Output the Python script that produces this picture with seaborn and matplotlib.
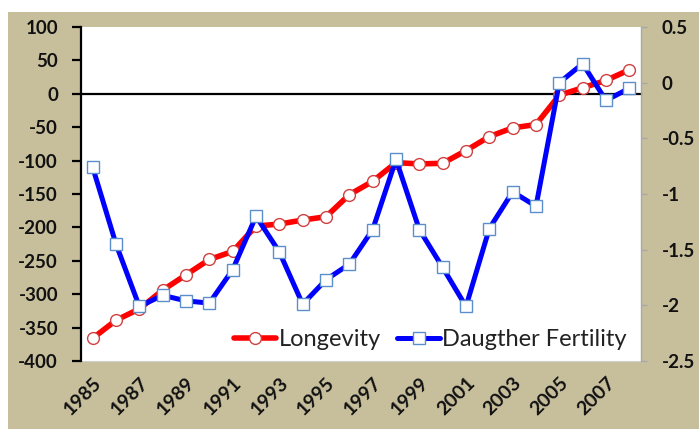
import numpy as np
import matplotlib
matplotlib.use('Agg')
import matplotlib.pyplot as plt
import matplotlib.transforms as mtransforms
import seaborn as sns
from matplotlib.patches import Rectangle
from matplotlib.lines import Line2D

years = [1985, 1986, 1987, 1988, 1989, 1990, 1991, 1992, 1993, 1994, 1995, 1996,
         1997, 1998, 1999, 2000, 2001, 2002, 2003, 2004, 2005, 2006, 2007, 2008]
longevity = [-366, -339, -322, -294, -271, -248, -236, -198, -195, -189, -184, -151,
             -131, -103, -105, -104, -85, -64, -51, -46, -2, 9, 20, 36]
fertility = [-0.76, -1.45, -2.01, -1.91, -1.96, -1.98, -1.68, -1.20, -1.52, -1.99, -1.77, -1.63,
             -1.32, -0.69, -1.32, -1.66, -2.01, -1.31, -0.98, -1.11, 0.00, 0.17, -0.16, -0.05]
label_years = [1985, 1987, 1989, 1991, 1993, 1995, 1997, 1999, 2001, 2003, 2005, 2007]
left_ticks = [100, 50, 0, -50, -100, -150, -200, -250, -300, -350, -400]
right_ticks = [0.5, 0, -0.5, -1, -1.5, -2, -2.5]

sns.set_style('white')
plt.rcParams['font.family'] = ['Lato', 'DejaVu Sans']
plt.rcParams['axes.unicode_minus'] = False

W, H = 699, 429
fig = plt.figure(figsize=(W / 100, H / 100), dpi=100)
fig.patch.set_facecolor('white')
fig.patches.append(Rectangle((8 / W, 0), 1, 1 - 12 / H, transform=fig.transFigure,
                             facecolor='#C7BF9C', edgecolor='none', zorder=-5))

ax = fig.add_axes([81 / W, 1 - 361 / H, 560 / W, 334 / H])
ax.set_facecolor('white')

sns.lineplot(x=years, y=longevity, ax=ax, color='#FF0000', linewidth=4.0,
             marker='o', markersize=8.5, markerfacecolor='white',
             markeredgecolor='#D04040', markeredgewidth=1.0, zorder=3)
ax.set_xlim(years[0] - 0.5, years[-1] + 0.5)
ax.set_ylim(-400, 100)
ax.set_yticks(left_ticks)
ax.set_yticklabels([str(t) for t in left_ticks])
ax.set_xlabel('')
ax.set_ylabel('')

# x axis line at zero with category boundary ticks
for s in ['top', 'right']:
    ax.spines[s].set_visible(False)
ax.spines['bottom'].set_position(('data', 0))
ax.spines['bottom'].set_color('black')
ax.spines['bottom'].set_linewidth(1.6)
ax.spines['left'].set_color('black')
ax.spines['left'].set_linewidth(1.6)
ax.set_xticks([y + 0.5 for y in years[:-1]] + [years[0] - 0.5])
ax.tick_params(axis='x', direction='out', length=4, width=1.6, color='black',
               labelbottom=False)
ax.tick_params(axis='y', direction='out', length=6.5, width=1.6, color='black',
               pad=10, labelsize=13.5, labelcolor='#111111')
for t in ax.get_yticklabels():
    t.set_fontweight('bold')

# year labels along the bottom of the plot area
sec = ax.secondary_xaxis('bottom')
sec.set_xticks(label_years)
sec.set_xticklabels([str(y) for y in label_years], rotation=45, ha='right', va='center',
                    rotation_mode='anchor', fontweight='bold', fontsize=14,
                    color='#111111')
sec.tick_params(length=0, pad=14)
shift = mtransforms.ScaledTranslation(0.06, 0, fig.dpi_scale_trans)
for t in sec.get_xticklabels():
    t.set_transform(t.get_transform() + shift)
sec.spines['bottom'].set_color('#D0D0D0')
sec.spines['bottom'].set_linewidth(0.8)

ax2 = ax.twinx()
sns.lineplot(x=years, y=fertility, ax=ax2, color='#0000FF', linewidth=3.6,
             marker='s', markersize=9, markerfacecolor='white',
             markeredgecolor='#5B8FCC', markeredgewidth=1.0, zorder=4)
ax2.set_ylim(-2.5, 0.5)
ax2.set_yticks(right_ticks)
ax2.set_yticklabels(['%g' % t for t in right_ticks])
ax2.set_ylabel('')
for s in ['top', 'left', 'bottom']:
    ax2.spines[s].set_visible(False)
ax2.spines['right'].set_color('#A8A8A8')
ax2.spines['right'].set_linewidth(1.0)
ax2.tick_params(axis='y', direction='out', length=4, width=1.0, color='#A8A8A8',
                pad=11, labelsize=13.5, labelcolor='#111111')
for t in ax2.get_yticklabels():
    t.set_fontweight('bold')

handles = [
    Line2D([], [], color='#FF0000', linewidth=4.0, marker='o', markersize=8.5,
           markerfacecolor='white', markeredgecolor='#D04040'),
    Line2D([], [], color='#0000FF', linewidth=3.6, marker='s', markersize=9,
           markerfacecolor='white', markeredgecolor='#5B8FCC'),
]
ax2.legend(handles, ['Longevity', 'Daugther Fertility'], loc='lower right',
           bbox_to_anchor=(1.0, -0.01), ncol=2, frameon=False, fontsize=17,
           handlelength=1.8, handletextpad=0.1, columnspacing=0.7,
           borderaxespad=0.2, labelcolor='#222222')

fig.savefig('out.png', dpi=100, facecolor=fig.get_facecolor())
